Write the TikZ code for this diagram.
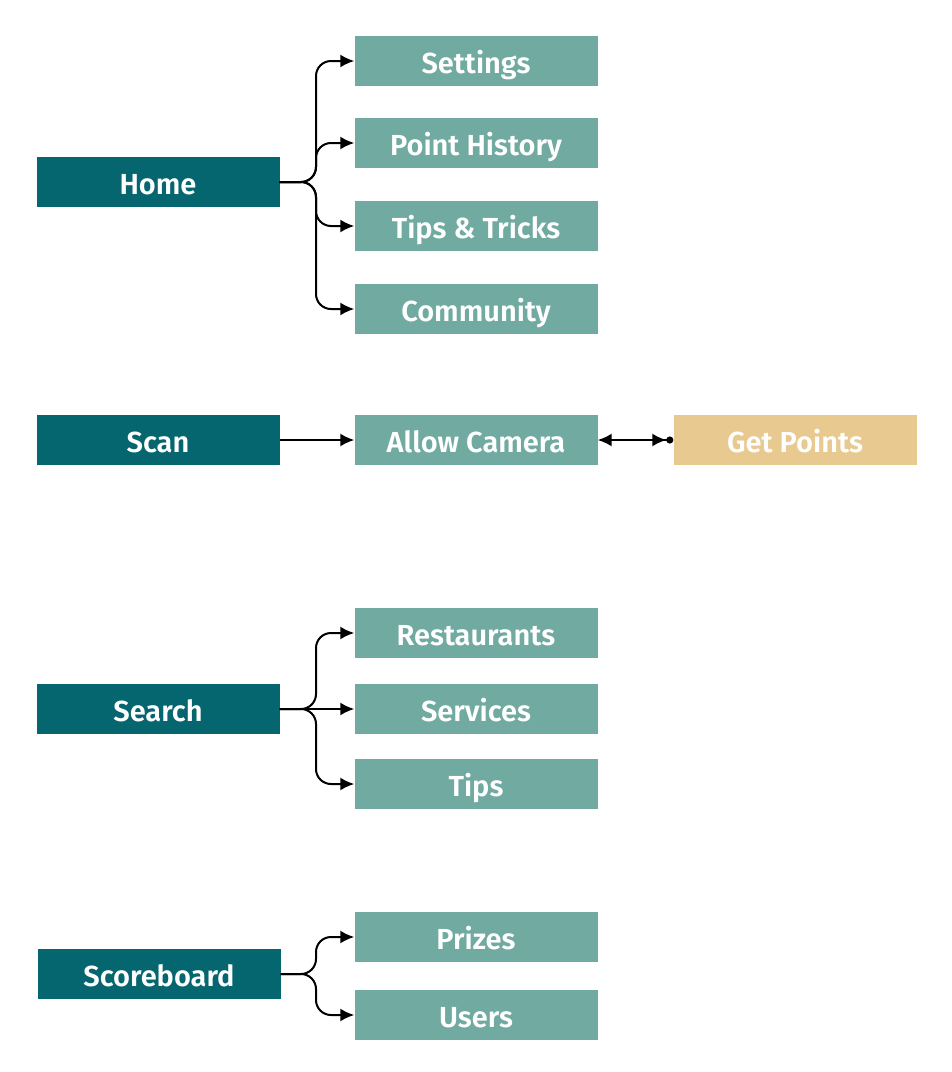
\documentclass[tikz,border=0pt]{standalone}
\usepackage{fontspec}
\setmainfont{Fira Sans}[BoldFont={Fira Sans SemiBold}]
\usetikzlibrary{arrows.meta}
\definecolor{darkteal}{HTML}{05666F}
\definecolor{lightteal}{HTML}{70AAA1}
\definecolor{sand}{HTML}{E8C98F}
\begin{document}
\begin{tikzpicture}[x=1pt,y=-1pt,
  box/.style={rectangle, inner sep=0pt, minimum width=243pt, minimum height=50pt,
    text height=25pt, text depth=0pt,
    text=white, font=\fontsize{29}{32}\selectfont\bfseries},
  parent/.style={box, fill=darkteal},
  child/.style={box, fill=lightteal},
  target/.style={box, fill=sand},
  conn/.style={line width=2pt, rounded corners=15pt, -{Latex[length=14pt,width=13pt]}},
  dbl/.style={line width=2pt, {Latex[length=14pt,width=13pt]}-{Latex[length=14pt,width=13pt]Circle[length=7pt]}}]
\useasboundingbox (0,0) rectangle (952,1072);
% Home group
\node[parent] (home) at (158,182) {Home};
\node[child] (set) at (476,61) {Settings};
\node[child] (hist) at (476,143) {Point History};
\node[child] (tips1) at (476,226) {Tips \& Tricks};
\node[child] (comm) at (476,309) {Community};
\coordinate (bus) at (316,0);
\draw[conn] (home.east) -| (bus |- set.west) -- (set.west);
\draw[conn] (home.east) -| (bus |- hist.west) -- (hist.west);
\draw[conn] (home.east) -| (bus |- tips1.west) -- (tips1.west);
\draw[conn] (home.east) -| (bus |- comm.west) -- (comm.west);
% Scan group
\node[parent] (scan) at (158,440) {Scan};
\node[child] (cam) at (476,440) {Allow Camera};
\node[target] (pts) at (795,440) {Get Points};
\draw[conn] (scan.east) -- (cam.west);
\draw[dbl] (cam.east) -- (pts.west);
% Search group
\node[parent] (search) at (158,709) {Search};
\node[child] (rest) at (476,633) {Restaurants};
\node[child] (serv) at (476,709) {Services};
\node[child] (tips2) at (476,784) {Tips};
\draw[conn] (search.east) -| (bus |- rest.west) -- (rest.west);
\draw[conn] (search.east) -- (serv.west);
\draw[conn] (search.east) -| (bus |- tips2.west) -- (tips2.west);
% Scoreboard group
\node[parent] (score) at (159,974) {Scoreboard};
\node[child] (prize) at (476,937) {Prizes};
\node[child] (users) at (476,1015) {Users};
\draw[conn] (score.east) -| (bus |- prize.west) -- (prize.west);
\draw[conn] (score.east) -| (bus |- users.west) -- (users.west);
\end{tikzpicture}
\end{document}
